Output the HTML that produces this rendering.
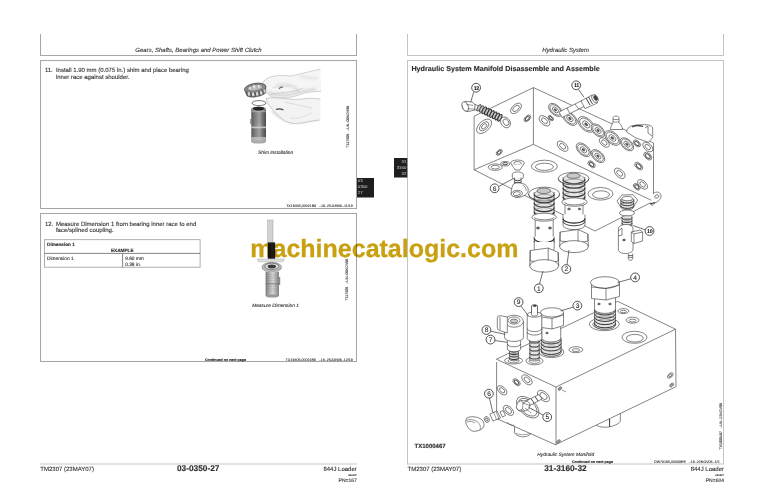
<!DOCTYPE html>
<html><head><meta charset="utf-8">
<style>
html,body{margin:0;padding:0;background:#fff;width:768px;height:497px;overflow:hidden}
svg{display:block}
text{font-family:"Liberation Sans",sans-serif;fill:#2e2e2e;stroke:#2e2e2e;stroke-width:0.1;text-rendering:geometricPrecision}
.b{stroke-width:0.14}
.it{font-style:italic}
.b{font-weight:bold}
.wm{font-family:"Liberation Sans",sans-serif;font-weight:bold;fill:#c8a012;stroke:#c8a012;stroke-width:0.3}
</style></head>
<body>
<svg width="768" height="497" viewBox="0 0 768 497">
<defs>
<linearGradient id="cyl" x1="0" x2="1" y1="0" y2="0">
<stop offset="0" stop-color="#5a5a5a"/><stop offset="0.3" stop-color="#8a8a8a"/><stop offset="0.55" stop-color="#a8a8a8"/><stop offset="0.8" stop-color="#707070"/><stop offset="1" stop-color="#4a4a4a"/>
</linearGradient>
<linearGradient id="cyl2" x1="0" x2="1" y1="0" y2="0">
<stop offset="0" stop-color="#7a7a7a"/><stop offset="0.3" stop-color="#b0b0b0"/><stop offset="0.55" stop-color="#d6d6d6"/><stop offset="0.85" stop-color="#a0a0a0"/><stop offset="1" stop-color="#787878"/>
</linearGradient>
<filter id="blur1" x="-20%" y="-20%" width="140%" height="140%"><feGaussianBlur stdDeviation="1.2"/></filter>
</defs>

<!-- ================= LEFT PAGE ================= -->
<g fill="none" stroke="#a6a6a6" stroke-width="1.05">
<path d="M40.5,34 V55.5 H356.5 V34"/>
<rect x="40.5" y="60.5" width="316" height="148"/>
<rect x="40.5" y="213.5" width="316" height="148"/>
</g>
<line x1="40" y1="464" x2="357" y2="464" stroke="#c8c8c8" stroke-width="1.2"/>

<text class="it" x="198.5" y="51.8" font-size="6" text-anchor="middle">Gears, Shafts, Bearings and Power Shift Clutch</text>

<text x="44.9" y="72.3" font-size="6">11.</text>
<text x="55.9" y="72.3" font-size="6">Install 1.90 mm (0.075 in.) shim and place bearing</text>
<text x="55.9" y="79.1" font-size="6">inner race against shoulder.</text>

<text class="it" x="275.6" y="153.7" font-size="4.8" text-anchor="middle">Shim Installation</text>
<text x="0" y="0" font-size="3.6" transform="translate(349.2,147.7) rotate(-90)">T117506 &#160;&#160;–UN–09NOV98</text>
<text x="352.8" y="207.4" font-size="3.6" text-anchor="end">TX19405,00021B3 &#160;&#160;–19–25JUN06–11/19</text>

<!-- tab left -->
<rect x="357" y="178" width="17" height="19.5" fill="#1e1e1e"/>
<text x="357.8" y="182.3" font-size="4.3" style="fill:#eee">03</text>
<text x="357.8" y="188.2" font-size="4.3" style="fill:#eee">0350</text>
<text x="357.8" y="194.2" font-size="4.3" style="fill:#eee">27</text>

<!-- illustration 1 (shim installation) -->
<g id="ill1">
  <!-- upper hand -->
  <path d="M262,83.5 C264,80 268,77.5 272,76.5 C278,75 285,75.5 291,76 C298,74.5 308,72 320.5,69 L321,91.5 C313,91.5 306,92 300,94.5 C294,97 288,97.8 282,98 C277,98.2 272,97.5 269,95 C266,92.5 263.5,89 262,86 Z" fill="#f5f5f5"/>
  <path d="M320.5,69 C308,72 298,74.5 291,76 C285,75.5 278,75 272,76.5 C268,77.5 264,80 262,83.5 L262,86 C263.5,89 266,92.5 269,95 C272,97.5 277,98.2 282,98 C288,97.8 294,97 300,94.5 C306,92 313,91.5 321,91.5" fill="none" stroke="#aaa" stroke-width="0.5"/>
  <g filter="url(#blur1)" opacity="0.8">
    <path d="M268,92 C274,95 283,96 292,94 C299,92.5 306,90 316,89" fill="none" stroke="#c9c9c9" stroke-width="2.2"/>
    <path d="M276,86 C281,84 287,84 292,86 C296,88 298,90 298,92" fill="none" stroke="#d2d2d2" stroke-width="2"/>
    <path d="M300,76 C306,78 312,79 318,78" fill="none" stroke="#dcdcdc" stroke-width="2"/>
    <path d="M272,111 C277,116 283,120 290,122 C298,123 308,121 318,119" fill="none" stroke="#cdcdcd" stroke-width="2.2"/>
    <path d="M270,100 C276,100.5 284,101 292,102.5" fill="none" stroke="#d5d5d5" stroke-width="1.8"/>
    <path d="M300,106 C306,110 312,112 318,112" fill="none" stroke="#dadada" stroke-width="2"/>
  </g>
  <path d="M270,95 C276,93 284,92.5 291,91.5 C296,90.5 300,89.5 303,88" fill="none" stroke="#c8c8c8" stroke-width="0.8"/>
  <path d="M272,88 C278,86.5 284,86 289,86.5" fill="none" stroke="#d0d0d0" stroke-width="0.6"/>
  <path d="M279,89 C280.5,87 282,86.5 283,87.5" fill="none" stroke="#666" stroke-width="1.1"/>
  <!-- lower hand -->
  <path d="M266,98.5 C270,97.5 276,97.8 282,98.3 C290,99.5 298,100 306,98.5 C312,98 317,98.5 320.5,99 L320.5,120 C314,120.5 308,121.5 302,123 C296,124 290,123.5 285,121 C280,117.5 276,113 272,109 C269,106 267,102 266,98.5 Z" fill="#f3f3f3"/>
  <path d="M320.5,99 C317,98.5 312,98 306,98.5 C298,100 290,99.5 282,98.3 C276,97.8 270,97.5 266,98.5 C267,102 269,106 272,109 C276,113 280,117.5 285,121 C290,123.5 296,124 302,123 C308,121.5 314,120.5 320.5,120" fill="none" stroke="#aaa" stroke-width="0.55"/>
  <path d="M285,102 C293,104 302,106 312,108" fill="none" stroke="#d5d5d5" stroke-width="0.8"/>
  <path d="M276,109.5 C278.5,108.5 281,108.8 283.5,110" fill="none" stroke="#444" stroke-width="1.3"/>
  <path d="M290,118 C296,119 304,117 312,113" fill="none" stroke="#d5d5d5" stroke-width="0.7"/>
  <!-- bearing -->
  <g transform="rotate(-9 255.5 90)">
    <path d="M244.7,88 A10.8,4.6 0 0 1 266.3,88 L265.3,93.5 A9.8,3.4 0 0 1 245.7,93.5 Z" fill="#5e5e5e" stroke="#555" stroke-width="0.4"/>
    <ellipse cx="255.5" cy="88" rx="10.8" ry="4.6" fill="#8e8e8e" stroke="#4a4a4a" stroke-width="0.6"/>
    <ellipse cx="255.5" cy="87.8" rx="7.8" ry="3" fill="#b8b8b8" stroke="#555" stroke-width="0.5"/>
    <g fill="#e4e4e4"><rect x="253.6" y="85" width="2.2" height="3.2"/><rect x="249.5" y="86" width="1.6" height="2.6"/><rect x="258.5" y="85.4" width="1.8" height="2.8"/></g>
    <g fill="#d6d6d6"><rect x="247.3" y="91" width="2.2" height="3.6"/><rect x="251.3" y="92" width="2.3" height="3.7"/><rect x="255.4" y="92.3" width="2.3" height="3.6"/><rect x="259.5" y="91.9" width="2.3" height="3.6"/><rect x="263.3" y="90.8" width="1.8" height="3.2"/></g>
  </g>
  <!-- shim ring -->
  <ellipse cx="259" cy="103.1" rx="7" ry="2.5" fill="#fff" stroke="#444" stroke-width="0.7"/>
  <!-- shaft cylinder -->
  <rect x="251.3" y="108.5" width="14.7" height="33.5" fill="url(#cyl)"/>
  <g stroke="#555" stroke-width="0.35" opacity="0.55">
    <line x1="251.3" y1="112" x2="266" y2="112"/><line x1="251.3" y1="114" x2="266" y2="114"/><line x1="251.3" y1="116" x2="266" y2="116"/><line x1="251.3" y1="118" x2="266" y2="118"/><line x1="251.3" y1="120" x2="266" y2="120"/><line x1="251.3" y1="122" x2="266" y2="122"/>
    <line x1="251.3" y1="130" x2="266" y2="130"/><line x1="251.3" y1="132" x2="266" y2="132"/><line x1="251.3" y1="134" x2="266" y2="134"/><line x1="251.3" y1="136" x2="266" y2="136"/>
  </g>
  <rect x="251.3" y="126.6" width="14.7" height="1.6" fill="#d0d0d0" opacity="0.85"/>
  <rect x="251.3" y="137" width="14.7" height="5" fill="#c4c4c4" opacity="0.75"/>
  <ellipse cx="258.65" cy="142" rx="7.35" ry="1.6" fill="#aaa"/>
  <ellipse cx="258.65" cy="109" rx="7.35" ry="2.4" fill="#9a9a9a"/>
  <ellipse cx="258.65" cy="108.6" rx="5.8" ry="1.9" fill="#222"/>
  <rect x="251.3" y="111" width="14.7" height="1.2" fill="#bbb" opacity="0.6"/>
  <rect x="250.3" y="119" width="1.2" height="5" fill="#777"/>
</g>

<!-- box 2 -->
<text x="44.9" y="225.5" font-size="6">12.</text>
<text x="55.9" y="225.5" font-size="6">Measure Dimension 1 from bearing inner race to end</text>
<text x="55.9" y="232.4" font-size="6">face/splined coupling.</text>

<g fill="none">
<rect x="44.5" y="239.7" width="155.6" height="27.5" stroke="#999" stroke-width="0.8"/>
<line x1="44.5" y1="253.4" x2="200.1" y2="253.4" stroke="#666" stroke-width="0.8"/>
<line x1="122.6" y1="253.4" x2="122.6" y2="267.2" stroke="#666" stroke-width="0.8"/>
</g>
<text class="b" x="47" y="245.6" font-size="4.7">Dimension 1</text>
<text class="b" x="122.3" y="251.6" font-size="4.7" text-anchor="middle">EXAMPLE</text>
<text x="47" y="259.7" font-size="4.8">Dimension 1</text>
<text x="125.2" y="259.7" font-size="4.8">9.60 mm</text>
<text x="125.2" y="265.6" font-size="4.8">0.38 in.</text>

<!-- illustration 2 (measure dimension) -->
<g id="ill2">
  <rect x="267.8" y="220" width="5.2" height="23" fill="#d2d2d2" stroke="#8a8a8a" stroke-width="0.4"/>
  <rect x="267.8" y="242.4" width="7.4" height="16.4" fill="#1c1c1c"/>
  <path d="M257,259 H284.6 L283,261.8 H258.5 Z" fill="#dedede" stroke="#999" stroke-width="0.35"/>
  <ellipse cx="271.8" cy="267.3" rx="9.8" ry="5" fill="#b8b8b8" stroke="#666" stroke-width="0.45"/>
  <ellipse cx="271.8" cy="266.4" rx="7" ry="3.2" fill="#e2e2e2" stroke="#444" stroke-width="0.6"/>
  <ellipse cx="271.8" cy="266.5" rx="4.2" ry="1.9" fill="#3a3a3a"/>
  <rect x="265.6" y="272" width="13.3" height="24" fill="url(#cyl2)"/>
  <g stroke="#666" stroke-width="0.3" opacity="0.45"><line x1="265.6" y1="274.5" x2="278.9" y2="274.5"/><line x1="265.6" y1="276.5" x2="278.9" y2="276.5"/><line x1="265.6" y1="278.5" x2="278.9" y2="278.5"/><line x1="265.6" y1="280.5" x2="278.9" y2="280.5"/><line x1="265.6" y1="286.5" x2="278.9" y2="286.5"/><line x1="265.6" y1="288.5" x2="278.9" y2="288.5"/><line x1="265.6" y1="290.5" x2="278.9" y2="290.5"/></g>
  <rect x="265.6" y="283" width="13.3" height="1.5" fill="#666" opacity="0.5"/>
  <ellipse cx="272.25" cy="296" rx="6.65" ry="1.6" fill="#999"/>
  <rect x="278.9" y="277" width="1.3" height="8" fill="#888"/>
</g>
<text class="it" x="275.5" y="306.7" font-size="4.8" text-anchor="middle">Measure Dimension 1</text>
<text x="0" y="0" font-size="3.6" transform="translate(348.3,300.6) rotate(-90)">T117506 &#160;&#160;–UN–09NOV98</text>
<text class="b" x="205" y="361" font-size="3.6">Continued on next page</text>
<text x="352.8" y="360.9" font-size="3.6" text-anchor="end">TX19405,00021B3 &#160;&#160;–19–25JUN06–12/19</text>

<!-- footer left -->
<text x="40.3" y="471.3" font-size="6">TM2307 (23MAY07)</text>
<text class="b" x="198.2" y="471.1" font-size="8.3" text-anchor="middle">03-0350-27</text>
<text x="356.8" y="471.3" font-size="6" text-anchor="end">844J Loader</text>
<text x="356.8" y="476" font-size="2.6" text-anchor="end">060407</text>
<text x="356.8" y="482" font-size="5" text-anchor="end">PN=167</text>

<!-- ================= RIGHT PAGE ================= -->
<g fill="none" stroke="#c4c4c4" stroke-width="1">
<path d="M407.5,34 V55.5 H723.5 V34"/>
<rect x="407.5" y="60.5" width="316" height="403.5"/>
</g>
<text class="it" x="565.6" y="51.8" font-size="6" text-anchor="middle">Hydraulic System</text>
<text class="b" x="411.4" y="71" font-size="7.2">Hydraulic System Manifold Disassemble and Assemble</text>

<!-- tab right -->
<rect x="394" y="158" width="13.3" height="19.5" fill="#1e1e1e"/>
<text x="406.3" y="162.7" font-size="4.3" text-anchor="end" style="fill:#eee">31</text>
<text x="406.3" y="168.7" font-size="4.3" text-anchor="end" style="fill:#eee">3160</text>
<text x="406.3" y="174.6" font-size="4.3" text-anchor="end" style="fill:#eee">32</text>

<g id="diagram" fill="none" stroke="#333" stroke-width="0.6" stroke-linejoin="round">
<path d="M533.4,87.6 L474.1,116.2 V169.8 L595,231 L653.5,201.3 V143 Z" fill="#fff"/>
<path d="M533.4,87.6 V144.4 L474.1,169.8 M533.4,144.4 L653.5,201.3"/>
<ellipse cx="484.1" cy="126.3" rx="9.03" ry="5.23" transform="rotate(136.91 484.1 126.3)" fill="#fff"/>
<ellipse cx="484.1" cy="126.3" rx="5.6" ry="3.24" transform="rotate(136.91 484.1 126.3)"/>
<ellipse cx="484.1" cy="126.3" rx="3.13" ry="1.81" transform="rotate(136.91 484.1 126.3)"/>
<ellipse cx="516" cy="108.4" rx="6.5" ry="3.77" transform="rotate(136.91 516 108.4)" fill="#fff"/>
<ellipse cx="516" cy="108.4" rx="3.9" ry="2.26" transform="rotate(136.91 516 108.4)"/>
<ellipse cx="527.4" cy="118.4" rx="4.09" ry="2.37" transform="rotate(136.91 527.4 118.4)" fill="#fff"/>
<ellipse cx="527.4" cy="118.4" rx="2.46" ry="1.42" transform="rotate(136.91 527.4 118.4)" stroke-width="1.0" stroke="#555"/>
<ellipse cx="499.2" cy="152.4" rx="3.61" ry="2.09" transform="rotate(136.91 499.2 152.4)" fill="#fff"/>
<ellipse cx="499.2" cy="152.4" rx="2.17" ry="1.26" transform="rotate(136.91 499.2 152.4)" stroke-width="1.0" stroke="#555"/>
<ellipse cx="555.4" cy="109.9" rx="8.13" ry="4.78" transform="rotate(-137.37 555.4 109.9)" fill="#fff"/>
<ellipse cx="555.4" cy="109.9" rx="6.5" ry="3.82" transform="rotate(-137.37 555.4 109.9)" stroke-width="0.9" stroke="#777"/>
<ellipse cx="555.4" cy="109.9" rx="3.66" ry="2.15" transform="rotate(-137.37 555.4 109.9)"/>
<ellipse cx="555.4" cy="109.9" rx="1.63" ry="0.96" transform="rotate(-137.37 555.4 109.9)" fill="#555" stroke-width="0.3"/>
<ellipse cx="569.9" cy="118.5" rx="8.61" ry="5.06" transform="rotate(-137.37 569.9 118.5)" fill="#fff"/>
<ellipse cx="569.9" cy="118.5" rx="6.89" ry="4.05" transform="rotate(-137.37 569.9 118.5)" stroke-width="0.9" stroke="#777"/>
<ellipse cx="569.9" cy="118.5" rx="3.87" ry="2.28" transform="rotate(-137.37 569.9 118.5)"/>
<ellipse cx="569.9" cy="118.5" rx="1.72" ry="1.01" transform="rotate(-137.37 569.9 118.5)" fill="#555" stroke-width="0.3"/>
<ellipse cx="586.2" cy="124.4" rx="9.8" ry="5.76" transform="rotate(-137.37 586.2 124.4)" fill="#fff"/>
<ellipse cx="586.2" cy="124.4" rx="7.84" ry="4.61" transform="rotate(-137.37 586.2 124.4)" stroke-width="0.9" stroke="#777"/>
<ellipse cx="586.2" cy="124.4" rx="4.41" ry="2.59" transform="rotate(-137.37 586.2 124.4)"/>
<ellipse cx="586.2" cy="124.4" rx="1.96" ry="1.15" transform="rotate(-137.37 586.2 124.4)" fill="#555" stroke-width="0.3"/>
<ellipse cx="598" cy="130.5" rx="8.13" ry="4.78" transform="rotate(-137.37 598 130.5)" fill="#fff"/>
<ellipse cx="598" cy="130.5" rx="6.5" ry="3.82" transform="rotate(-137.37 598 130.5)" stroke-width="0.9" stroke="#777"/>
<ellipse cx="598" cy="130.5" rx="3.66" ry="2.15" transform="rotate(-137.37 598 130.5)"/>
<ellipse cx="598" cy="130.5" rx="1.63" ry="0.96" transform="rotate(-137.37 598 130.5)" fill="#555" stroke-width="0.3"/>
<ellipse cx="612.4" cy="138" rx="9.2" ry="5.41" transform="rotate(-137.37 612.4 138)" fill="#fff"/>
<ellipse cx="612.4" cy="138" rx="7.36" ry="4.33" transform="rotate(-137.37 612.4 138)" stroke-width="0.9" stroke="#777"/>
<ellipse cx="612.4" cy="138" rx="4.14" ry="2.43" transform="rotate(-137.37 612.4 138)"/>
<ellipse cx="612.4" cy="138" rx="1.84" ry="1.08" transform="rotate(-137.37 612.4 138)" fill="#555" stroke-width="0.3"/>
<ellipse cx="626.9" cy="144.3" rx="8.13" ry="4.78" transform="rotate(-137.37 626.9 144.3)" fill="#fff"/>
<ellipse cx="626.9" cy="144.3" rx="6.5" ry="3.82" transform="rotate(-137.37 626.9 144.3)" stroke-width="0.9" stroke="#777"/>
<ellipse cx="626.9" cy="144.3" rx="3.66" ry="2.15" transform="rotate(-137.37 626.9 144.3)"/>
<ellipse cx="626.9" cy="144.3" rx="1.63" ry="0.96" transform="rotate(-137.37 626.9 144.3)" fill="#555" stroke-width="0.3"/>
<ellipse cx="583.4" cy="149.8" rx="8.61" ry="5.06" transform="rotate(-137.37 583.4 149.8)" fill="#fff"/>
<ellipse cx="583.4" cy="149.8" rx="6.89" ry="4.05" transform="rotate(-137.37 583.4 149.8)" stroke-width="0.9" stroke="#777"/>
<ellipse cx="583.4" cy="149.8" rx="3.87" ry="2.28" transform="rotate(-137.37 583.4 149.8)"/>
<ellipse cx="583.4" cy="149.8" rx="1.72" ry="1.01" transform="rotate(-137.37 583.4 149.8)" fill="#555" stroke-width="0.3"/>
<ellipse cx="597.9" cy="156.1" rx="8.13" ry="4.78" transform="rotate(-137.37 597.9 156.1)" fill="#fff"/>
<ellipse cx="597.9" cy="156.1" rx="6.5" ry="3.82" transform="rotate(-137.37 597.9 156.1)" stroke-width="0.9" stroke="#777"/>
<ellipse cx="597.9" cy="156.1" rx="3.66" ry="2.15" transform="rotate(-137.37 597.9 156.1)"/>
<ellipse cx="597.9" cy="156.1" rx="1.63" ry="0.96" transform="rotate(-137.37 597.9 156.1)" fill="#555" stroke-width="0.3"/>
<ellipse cx="544.5" cy="120.8" rx="6.46" ry="3.79" transform="rotate(-137.37 544.5 120.8)" fill="#fff"/>
<ellipse cx="544.5" cy="120.8" rx="3.55" ry="2.09" transform="rotate(-137.37 544.5 120.8)"/>
<ellipse cx="604.3" cy="142.5" rx="5.98" ry="3.51" transform="rotate(-137.37 604.3 142.5)" fill="#fff"/>
<ellipse cx="604.3" cy="142.5" rx="3.29" ry="1.93" transform="rotate(-137.37 604.3 142.5)"/>
<ellipse cx="562.6" cy="146.2" rx="6.46" ry="3.79" transform="rotate(-137.37 562.6 146.2)" fill="#fff"/>
<ellipse cx="562.6" cy="146.2" rx="3.55" ry="2.09" transform="rotate(-137.37 562.6 146.2)"/>
<ellipse cx="647.8" cy="147" rx="5.98" ry="3.51" transform="rotate(-137.37 647.8 147)" fill="#fff"/>
<ellipse cx="647.8" cy="147" rx="3.29" ry="1.93" transform="rotate(-137.37 647.8 147)"/>
<ellipse cx="619.7" cy="173.3" rx="6.46" ry="3.79" transform="rotate(-137.37 619.7 173.3)" fill="#fff"/>
<ellipse cx="619.7" cy="173.3" rx="3.55" ry="2.09" transform="rotate(-137.37 619.7 173.3)"/>
<ellipse cx="550.8" cy="118.1" rx="3.23" ry="1.9" transform="rotate(-137.37 550.8 118.1)" fill="#fff"/>
<ellipse cx="550.8" cy="118.1" rx="1.94" ry="1.14" transform="rotate(-137.37 550.8 118.1)" stroke-width="1.0" stroke="#555"/>
<ellipse cx="636.9" cy="143.4" rx="4.3" ry="2.53" transform="rotate(-137.37 636.9 143.4)" fill="#fff"/>
<ellipse cx="636.9" cy="143.4" rx="2.58" ry="1.52" transform="rotate(-137.37 636.9 143.4)" stroke-width="1.0" stroke="#555"/>
<ellipse cx="647.8" cy="156.1" rx="4.78" ry="2.81" transform="rotate(-137.37 647.8 156.1)" fill="#fff"/>
<ellipse cx="647.8" cy="156.1" rx="2.87" ry="1.69" transform="rotate(-137.37 647.8 156.1)" stroke-width="1.0" stroke="#555"/>
<ellipse cx="591.6" cy="164.3" rx="4.3" ry="2.53" transform="rotate(-137.37 591.6 164.3)" fill="#fff"/>
<ellipse cx="591.6" cy="164.3" rx="2.58" ry="1.52" transform="rotate(-137.37 591.6 164.3)" stroke-width="1.0" stroke="#555"/>
<ellipse cx="638.7" cy="166.1" rx="4.78" ry="2.81" transform="rotate(-137.37 638.7 166.1)" fill="#fff"/>
<ellipse cx="638.7" cy="166.1" rx="2.87" ry="1.69" transform="rotate(-137.37 638.7 166.1)" stroke-width="1.0" stroke="#555"/>
<ellipse cx="636.8" cy="186.8" rx="4.06" ry="2.39" transform="rotate(-137.37 636.8 186.8)" fill="#fff"/>
<ellipse cx="636.8" cy="186.8" rx="2.44" ry="1.43" transform="rotate(-137.37 636.8 186.8)" stroke-width="1.0" stroke="#555"/>
<ellipse cx="642.6" cy="184.4" rx="5.98" ry="3.51" transform="rotate(-137.37 642.6 184.4)" fill="#fff"/>
<ellipse cx="642.6" cy="184.4" rx="3.29" ry="1.93" transform="rotate(-137.37 642.6 184.4)"/>
<path d="M653.5,193.5 C656,191 660,192 661,195 C661.5,198 659,201.5 655,203 L652,205.5 L650.5,203" fill="#fff"/>
<ellipse cx="656.8" cy="196.5" rx="2.2" ry="1.5" transform="rotate(-20 656.8 196.5)"/>
<path d="M650,204 L655,202.5" stroke-width="1.1"/>
<ellipse cx="495.2" cy="167.2" rx="7" ry="3.2" fill="#fff"/>
<ellipse cx="495.2" cy="167.2" rx="4.2" ry="1.8"/>
<ellipse cx="505.2" cy="163.7" rx="4.5" ry="2.2" fill="#fff"/>
<ellipse cx="505.2" cy="163.7" rx="2.5" ry="1.1" stroke-width="0.9"/>
<ellipse cx="544.4" cy="166.2" rx="13" ry="6" fill="#fff"/>
<ellipse cx="544.4" cy="166.8" rx="9" ry="3.6"/>
<ellipse cx="600.5" cy="193.8" rx="12.5" ry="6.3" fill="#fff"/>
<ellipse cx="601" cy="194.6" rx="8.5" ry="3.8"/>
<path d="M465.5,101.3 L472,102 L475.5,105 L475,110 L468,111.6 C465,111.8 462.2,109 462.2,106.5 C462.2,104 463.5,101.8 465.5,101.3 Z" fill="#fff"/>
<ellipse cx="465.3" cy="106.5" rx="2.9" ry="5" transform="rotate(-20 465.3 106.5)" fill="#fff"/>
<path d="M466.5,104.5 L473,105.3 M467.5,108.8 L474.5,109" stroke-width="0.5"/>
<path d="M475,104.5 L478.5,105.8 L478,110.5 L474.8,109.8 Z" fill="#fff"/>
<ellipse cx="479" cy="107.8" rx="1.5" ry="3.7" transform="rotate(28 479 107.8)" fill="#c4c4c4" stroke="#333" stroke-width="0.7"/>
<ellipse cx="481.6" cy="109.05" rx="1.5" ry="3.7" transform="rotate(28 481.6 109.05)" fill="#c4c4c4" stroke="#333" stroke-width="0.7"/>
<ellipse cx="484.2" cy="110.3" rx="1.5" ry="3.7" transform="rotate(28 484.2 110.3)" fill="#c4c4c4" stroke="#333" stroke-width="1.05"/>
<ellipse cx="486.8" cy="111.55" rx="1.5" ry="3.7" transform="rotate(28 486.8 111.55)" fill="#c4c4c4" stroke="#333" stroke-width="1.05"/>
<ellipse cx="489.4" cy="112.8" rx="1.5" ry="3.7" transform="rotate(28 489.4 112.8)" fill="#c4c4c4" stroke="#333" stroke-width="1.05"/>
<ellipse cx="492" cy="114.05" rx="1.5" ry="3.7" transform="rotate(28 492 114.05)" fill="#c4c4c4" stroke="#333" stroke-width="1.05"/>
<ellipse cx="494.6" cy="115.3" rx="1.5" ry="3.7" transform="rotate(28 494.6 115.3)" fill="#c4c4c4" stroke="#333" stroke-width="1.05"/>
<ellipse cx="497.2" cy="116.55" rx="1.5" ry="3.7" transform="rotate(28 497.2 116.55)" fill="#c4c4c4" stroke="#333" stroke-width="1.05"/>
<ellipse cx="499.8" cy="117.8" rx="1.5" ry="3.7" transform="rotate(28 499.8 117.8)" fill="#c4c4c4" stroke="#333" stroke-width="1.05"/>
<ellipse cx="505.5" cy="122.4" rx="4.5" ry="5.8" transform="rotate(-35 505.5 122.4)" fill="#fff"/>
<ellipse cx="506" cy="122.2" rx="2.6" ry="3.6" transform="rotate(-35 506 122.2)"/>
<path d="M559,112 L582,100.5 L585,106 L562,117.5 Z" fill="#fff"/>
<path d="M575,104 L579,109.5 M567,108 L569.5,113"/>
<path d="M581,101 L592,95 L597.5,103 L585,108.5 Z" fill="#fff"/>
<path d="M586,98 L590,105 M588.5,97 L592.5,104" stroke-width="0.9"/>
<ellipse cx="595" cy="98.5" rx="2.8" ry="4.2" transform="rotate(-28 595 98.5)" fill="#fff"/>
<ellipse cx="595.6" cy="98" rx="1.6" ry="2.6" transform="rotate(-28 595.6 98)" fill="#444"/>
<path d="M610.5,129.5 C611,125 612.5,124 613,123 V117.5 C614,115.5 618,115.5 619,117.5 V123 C620,124 622,125 622.5,129.5 Z" fill="#fff"/>
<path d="M613,119.5 H619 M613,122 H619" stroke-width="0.5"/>
<path d="M626.5,132 C627,128 630,126 633,125.5 C638,124.5 644,124.5 648.3,124.9 C651,125.5 652.7,127 652.7,128 V137.4 C651,140 649,141.5 648.3,142.2 L636,138 Z" fill="#fff"/>
<path d="M632.2,126.9 C635,125.5 640,125.5 643,126.5" stroke-width="1.1"/>
<path d="M648,126 V133 L652,136 M645,128 L648,126"/>
<ellipse cx="517.5" cy="163" rx="6.8" ry="3" fill="#fff"/>
<ellipse cx="517.5" cy="163.2" rx="3.8" ry="1.6"/>
<path d="M511.5,164.5 C513,167 514.5,168.5 515,170 H520 C520.5,168.5 522,167 523.5,164.5" fill="#fff"/>
<ellipse cx="517.8" cy="174.5" rx="5.5" ry="2.6" fill="#fff"/>
<path d="M512.3,174.5 V177.5 A5.5,2.31 0 0 0 523.3,177.5 V174.5" fill="#fff"/>
<path d="M514.5,177.5 V184.5 A3.3,1.39 0 0 0 521.1,184.5 V177.5" fill="#f0f0f0"/>
<path d="M514.5,179.3 A3.3,1.39 0 0 0 521.1,179.3" stroke-width="0.9"/>
<path d="M514.5,181.5 A3.3,1.39 0 0 0 521.1,181.5" stroke-width="0.9"/>
<path d="M514.5,183.6 A3.3,1.39 0 0 0 521.1,183.6" stroke-width="0.9"/>
<path d="M513.5,184 C515,182.5 521,182.5 524,184 C526,185 528.3,187 528.3,190 C528.3,193 526,195 523,196 L520,197.3 C516,197.8 511.5,196.5 511.2,193.5 C511,190.5 512,186 513.5,184 Z" fill="#fff"/>
<ellipse cx="516.8" cy="193.6" rx="5.6" ry="3.3" transform="rotate(-8 516.8 193.6)" fill="#fff"/>
<ellipse cx="516.8" cy="193.6" rx="3.6" ry="1.9" transform="rotate(-8 516.8 193.6)"/>
<path d="M522.5,185 C525,186 526.5,188.5 526,191" stroke-width="0.5"/>
<ellipse cx="544.1" cy="194.1" rx="15.6" ry="7" fill="#fff"/>
<path d="M534.2,192 V214 A10,4.2 0 0 0 554.2,214 V192" fill="#e4e4e4"/>
<path d="M534.2,194.2 A10,4.2 0 0 1 554.2,194.2" stroke-width="0.6" stroke="#777"/>
<path d="M534.2,194.2 A10,4.2 0 0 0 554.2,194.2" stroke-width="1.25" stroke="#333"/>
<path d="M534.2,198.6 A10,4.2 0 0 1 554.2,198.6" stroke-width="0.6" stroke="#777"/>
<path d="M534.2,198.6 A10,4.2 0 0 0 554.2,198.6" stroke-width="1.25" stroke="#333"/>
<path d="M534.2,203 A10,4.2 0 0 1 554.2,203" stroke-width="0.6" stroke="#777"/>
<path d="M534.2,203 A10,4.2 0 0 0 554.2,203" stroke-width="1.25" stroke="#333"/>
<path d="M534.2,207.4 A10,4.2 0 0 1 554.2,207.4" stroke-width="0.6" stroke="#777"/>
<path d="M534.2,207.4 A10,4.2 0 0 0 554.2,207.4" stroke-width="1.25" stroke="#333"/>
<path d="M534.2,211.8 A10,4.2 0 0 1 554.2,211.8" stroke-width="0.6" stroke="#777"/>
<path d="M534.2,211.8 A10,4.2 0 0 0 554.2,211.8" stroke-width="1.25" stroke="#333"/>
<ellipse cx="543.8" cy="190.8" rx="6.8" ry="2.8" fill="#c8c8c8"/>
<path d="M528.5,194.1 A15.6,7 0 0 0 559.7,194.1"/>
<path d="M535.2,217 V237 A9,3.78 0 0 0 553.2,237 V217" fill="#fff"/>
<path d="M531.8,217.2 A12.3,4 0 0 0 556.4,217.2 A12.3,4 0 0 0 531.8,217.2 M534.5,217.2 A9.7,2.6 0 0 0 553.9,217.2" fill="#fff"/>
<ellipse cx="538" cy="228" rx="1.6" ry="1.2" fill="#666" stroke-width="0.3"/>
<ellipse cx="550" cy="228" rx="1.6" ry="1.2" fill="#666" stroke-width="0.3"/>
<path d="M534.2,236.5 V242 A10,4.2 0 0 0 554.2,242 V236.5" fill="#fff"/>
<path d="M534.2,238.3 A10,4.2 0 0 0 554.2,238.3" stroke-width="1.1" stroke="#222"/>
<path d="M534.2,240.8 A10,4.2 0 0 0 554.2,240.8" stroke-width="0.9" stroke="#333"/>
<path d="M534.2,242 V248.5 A10,4.2 0 0 0 554.2,248.5 V242" fill="#fff"/>
<path d="M530.2,250.5 L548.2,248 L558.2,252.5 V261 L548.2,263 L530.2,261 Z" fill="#fff"/>
<ellipse cx="544.2" cy="265.9" rx="14.5" ry="6.3" fill="#fff"/>
<path d="M530.2,250.5 L529.7,265.9 M558.2,252.5 L558.7,265.9 M548.2,248 V260.6"/>
<ellipse cx="573.6" cy="178.6" rx="15.4" ry="6.3" fill="#fff"/>
<path d="M563.1,177 V199 A10.9,4.58 0 0 0 584.9,199 V177" fill="#e4e4e4"/>
<path d="M563.1,179.2 A10.9,4.58 0 0 1 584.9,179.2" stroke-width="0.6" stroke="#777"/>
<path d="M563.1,179.2 A10.9,4.58 0 0 0 584.9,179.2" stroke-width="1.25" stroke="#333"/>
<path d="M563.1,183.6 A10.9,4.58 0 0 1 584.9,183.6" stroke-width="0.6" stroke="#777"/>
<path d="M563.1,183.6 A10.9,4.58 0 0 0 584.9,183.6" stroke-width="1.25" stroke="#333"/>
<path d="M563.1,188 A10.9,4.58 0 0 1 584.9,188" stroke-width="0.6" stroke="#777"/>
<path d="M563.1,188 A10.9,4.58 0 0 0 584.9,188" stroke-width="1.25" stroke="#333"/>
<path d="M563.1,192.4 A10.9,4.58 0 0 1 584.9,192.4" stroke-width="0.6" stroke="#777"/>
<path d="M563.1,192.4 A10.9,4.58 0 0 0 584.9,192.4" stroke-width="1.25" stroke="#333"/>
<path d="M563.1,196.8 A10.9,4.58 0 0 1 584.9,196.8" stroke-width="0.6" stroke="#777"/>
<path d="M563.1,196.8 A10.9,4.58 0 0 0 584.9,196.8" stroke-width="1.25" stroke="#333"/>
<ellipse cx="573.5" cy="175.8" rx="6.8" ry="2.6" fill="#c8c8c8"/>
<path d="M558.2,178.6 A15.4,6.3 0 0 0 589,178.6"/>
<path d="M565,202 V215 A9,3.78 0 0 0 583,215 V202" fill="#fff"/>
<path d="M561.8,202.1 A12.7,4.2 0 0 0 587.2,202.1 A12.7,4.2 0 0 0 561.8,202.1 M564.5,202.1 A10,2.8 0 0 0 584.5,202.1" fill="#fff"/>
<ellipse cx="569" cy="209" rx="1.5" ry="1.1" fill="#666" stroke-width="0.3"/>
<ellipse cx="579.5" cy="209" rx="1.5" ry="1.1" fill="#666" stroke-width="0.3"/>
<path d="M563,214.5 V225 A11,4.62 0 0 0 585,225 V214.5" fill="#fff"/>
<path d="M563,218.5 A11,4.62 0 0 0 585,218.5" stroke-width="1.1" stroke="#222"/>
<path d="M563,221.2 A11,4.62 0 0 0 585,221.2" stroke-width="0.9" stroke="#333"/>
<path d="M560.1,232 L578,229.5 L587.9,234 V241 L578,243 L560.1,241 Z" fill="#fff"/>
<ellipse cx="574" cy="246.6" rx="14.4" ry="6" fill="#fff"/>
<path d="M560.1,232 L559.6,246.6 M587.9,234 L588.4,246.6 M578,229.5 V241.6"/>
<path d="M617,201 L622,195 L633,194.7 L637.8,200 L633,207.5 L621,207.5 Z" fill="#fff"/>
<path d="M620.8,199 V207 A6.5,2.73 0 0 0 633.8,207 V199" fill="#e4e4e4"/>
<path d="M620.8,200.33 A6.5,2.73 0 0 1 633.8,200.33" stroke-width="0.6" stroke="#777"/>
<path d="M620.8,200.33 A6.5,2.73 0 0 0 633.8,200.33" stroke-width="1.0" stroke="#333"/>
<path d="M620.8,203 A6.5,2.73 0 0 1 633.8,203" stroke-width="0.6" stroke="#777"/>
<path d="M620.8,203 A6.5,2.73 0 0 0 633.8,203" stroke-width="1.0" stroke="#333"/>
<path d="M620.8,205.67 A6.5,2.73 0 0 1 633.8,205.67" stroke-width="0.6" stroke="#777"/>
<path d="M620.8,205.67 A6.5,2.73 0 0 0 633.8,205.67" stroke-width="1.0" stroke="#333"/>
<ellipse cx="627.3" cy="198.6" rx="5.5" ry="2.2" fill="#fff"/>
<ellipse cx="627" cy="213" rx="7.5" ry="3" fill="#fff"/>
<path d="M622,216.4 V224.5 A5,2.1 0 0 0 632,224.5 V216.4" fill="#e4e4e4"/>
<path d="M622,217.75 A5,2.1 0 0 1 632,217.75" stroke-width="0.6" stroke="#777"/>
<path d="M622,217.75 A5,2.1 0 0 0 632,217.75" stroke-width="0.9" stroke="#333"/>
<path d="M622,220.45 A5,2.1 0 0 1 632,220.45" stroke-width="0.6" stroke="#777"/>
<path d="M622,220.45 A5,2.1 0 0 0 632,220.45" stroke-width="0.9" stroke="#333"/>
<path d="M622,223.15 A5,2.1 0 0 1 632,223.15" stroke-width="0.6" stroke="#777"/>
<path d="M622,223.15 A5,2.1 0 0 0 632,223.15" stroke-width="0.9" stroke="#333"/>
<path d="M618.4,229 C618.4,226 622,224.5 626,224.5 C630,224.5 633,226 633,229 V249 C633,252 630,253.5 625.7,253.5 C621,253.5 618.4,252 618.4,249 Z" fill="#fff"/>
<path d="M618.4,231 L622,228 V235 L618.4,236" stroke-width="0.6"/>
<ellipse cx="624" cy="240" rx="1.5" ry="1" fill="#555" stroke-width="0.3"/>
<path d="M631.3,232 L640,230 L642.6,232 V241 L634,243.5 L631.3,241.5 Z" fill="#fff"/>
<path d="M634,234 V243.5 M631.3,232 L634,234 L642.6,232"/>
<path d="M628.3,253.5 V258.5 C628.3,260.8 632.7,260.8 632.7,258.5 V253.5" fill="#fff"/>
<path d="M628.3,255.5 H632.7 M628.3,257.3 H632.7" stroke-width="0.7"/>
<path d="M496.4,359.2 L617.7,301.4 L675.5,329.2 L676,386.7 L555.5,444.7 L496.6,418.6 V362" fill="#fff"/>
<path d="M496.4,359.2 L556,387 L675.5,329.2 M556,387 V444.7"/>
<path d="M514.5,427 V432.5 C516,436 521,437 524,436.8 C527.5,436.6 530,435 531,433.3"/>
<path d="M515.5,433 C518.5,435 525,435.3 530,433.5" stroke-width="0.45"/>
<path d="M507,422.3 C509,424.5 512,425.3 514.5,425.5" stroke-width="0.5"/>
<path d="M596.3,425.4 C600,427.5 606,427.5 609.6,426.8 C614,426 618.5,424 620.3,421.5 V413.4"/>
<line x1="609.6" y1="419" x2="609.6" y2="426.8" stroke-width="1"/>
<ellipse cx="623.4" cy="311.1" rx="5.5" ry="2.5" fill="#fff"/>
<ellipse cx="623.4" cy="311.5" rx="3" ry="1.2"/>
<ellipse cx="632.5" cy="320.2" rx="6.5" ry="3" fill="#fff"/>
<ellipse cx="632.5" cy="320.6" rx="3.6" ry="1.4"/>
<ellipse cx="634.5" cy="337.3" rx="12.5" ry="6" fill="#fff"/>
<ellipse cx="634.8" cy="338.2" rx="8.5" ry="3.8"/>
<ellipse cx="575.9" cy="349.7" rx="7" ry="3" fill="#fff"/>
<ellipse cx="575.9" cy="350.1" rx="3.8" ry="1.4"/>
<ellipse cx="502.1" cy="390.3" rx="5.74" ry="3.37" transform="rotate(-137.37 502.1 390.3)" fill="#fff"/>
<ellipse cx="502.1" cy="390.3" rx="3.16" ry="1.86" transform="rotate(-137.37 502.1 390.3)"/>
<ellipse cx="516.6" cy="382.2" rx="4.3" ry="2.53" transform="rotate(-137.37 516.6 382.2)" fill="#fff"/>
<ellipse cx="516.6" cy="382.2" rx="2.58" ry="1.52" transform="rotate(-137.37 516.6 382.2)" stroke-width="1.0" stroke="#555"/>
<ellipse cx="527" cy="379.8" rx="6.22" ry="3.65" transform="rotate(-137.37 527 379.8)" fill="#fff"/>
<ellipse cx="527" cy="379.8" rx="3.42" ry="2.01" transform="rotate(-137.37 527 379.8)"/>
<ellipse cx="508.5" cy="410.4" rx="6.22" ry="3.65" transform="rotate(-137.37 508.5 410.4)" fill="#fff"/>
<ellipse cx="508.5" cy="410.4" rx="3.73" ry="2.19" transform="rotate(-137.37 508.5 410.4)"/>
<ellipse cx="527.8" cy="407.2" rx="13.51" ry="7.94" transform="rotate(-137.37 527.8 407.2)" fill="#fff"/>
<ellipse cx="527.8" cy="407.2" rx="11.08" ry="6.51" transform="rotate(-137.37 527.8 407.2)"/>
<ellipse cx="543.5" cy="396" rx="7.17" ry="4.22" transform="rotate(-137.37 543.5 396)" fill="#fff"/>
<ellipse cx="543.5" cy="396" rx="4.3" ry="2.53" transform="rotate(-137.37 543.5 396)"/>
<path d="M524,402 L539,394.5 L542,399 L527,407 Z" fill="#fff"/>
<path d="M531,398.5 L534,403 M535,396.5 L538,401" stroke-width="0.9"/>
<path d="M517.5,402.5 L521,400.5 L527,401 L530,403.5 L529.5,408.5 L525,411 L519,410.8 L516.2,408 Z" fill="#fff"/>
<path d="M516.2,408 L519,410.8 L522.5,409 L523,403 L521,400.5 M522.5,409 L525,411 M523,403 L527,401 M523,403 L529.8,405.5" stroke-width="0.55"/>
<path d="M525,408 L531,413 M528,407 L533,410" stroke-width="0.5"/>
<ellipse cx="670.3" cy="375.5" rx="3.37" ry="1.95" transform="rotate(136.91 670.3 375.5)" fill="#fff"/>
<ellipse cx="670.3" cy="375.5" rx="1.69" ry="0.98" transform="rotate(136.91 670.3 375.5)"/>
<ellipse cx="671.7" cy="385" rx="2.41" ry="1.4" transform="rotate(136.91 671.7 385)" fill="#fff"/>
<ellipse cx="671.7" cy="385" rx="1.2" ry="0.7" transform="rotate(136.91 671.7 385)"/>
<ellipse cx="560" cy="388.6" rx="2.17" ry="1.26" transform="rotate(136.91 560 388.6)" fill="#fff"/>
<ellipse cx="560" cy="388.6" rx="1.08" ry="0.63" transform="rotate(136.91 560 388.6)"/>
<path d="M562,390 L566,392" stroke-width="0.5"/>
<ellipse cx="558.5" cy="441.5" rx="2.17" ry="1.26" transform="rotate(136.91 558.5 441.5)" fill="#fff"/>
<ellipse cx="558.5" cy="441.5" rx="1.08" ry="0.63" transform="rotate(136.91 558.5 441.5)"/>
<path d="M489.7,414 L497,411 L500.5,418 L493,421 Z" fill="#fff"/>
<path d="M493.5,412 L496.5,419.5 M496,411.5 L499,419" stroke-width="0.5"/>
<path d="M500,412 L503,410.5 L505.5,415.5 L502.5,417 Z" fill="#fff"/>
<ellipse cx="486.8" cy="419.5" rx="2.4" ry="3" transform="rotate(-30 486.8 419.5)" fill="#fff"/>
<ellipse cx="486.8" cy="419.5" rx="1.1" ry="1.5" transform="rotate(-30 486.8 419.5)"/>
<path d="M467,418 C470,416 476,416.5 480,418.5 C483,420 484.5,423 484,426 C483,429 479,431 475,431.3 C472,431.5 469.5,430 468.5,428 C466,425 464.5,421 467,418 Z" fill="#fff"/>
<path d="M466,420.5 C469,419 474,419.5 477,421.5 C480,423.5 481,427 480,430" stroke-width="0.5"/>
<path d="M467,422 C470,421 473,421.5 475,423" stroke-width="0.5"/>
<ellipse cx="604.3" cy="324.2" rx="15" ry="6.5" fill="#fff"/>
<ellipse cx="604.3" cy="324.5" rx="11.5" ry="4.5"/>
<path d="M594.5,309 V325 A10.5,4.41 0 0 0 615.5,325 V309" fill="#e4e4e4"/>
<path d="M594.5,310.6 A10.5,4.41 0 0 1 615.5,310.6" stroke-width="0.6" stroke="#777"/>
<path d="M594.5,310.6 A10.5,4.41 0 0 0 615.5,310.6" stroke-width="1.0" stroke="#333"/>
<path d="M594.5,313.8 A10.5,4.41 0 0 1 615.5,313.8" stroke-width="0.6" stroke="#777"/>
<path d="M594.5,313.8 A10.5,4.41 0 0 0 615.5,313.8" stroke-width="1.0" stroke="#333"/>
<path d="M594.5,317 A10.5,4.41 0 0 1 615.5,317" stroke-width="0.6" stroke="#777"/>
<path d="M594.5,317 A10.5,4.41 0 0 0 615.5,317" stroke-width="1.0" stroke="#333"/>
<path d="M594.5,320.2 A10.5,4.41 0 0 1 615.5,320.2" stroke-width="0.6" stroke="#777"/>
<path d="M594.5,320.2 A10.5,4.41 0 0 0 615.5,320.2" stroke-width="1.0" stroke="#333"/>
<path d="M594.5,323.4 A10.5,4.41 0 0 1 615.5,323.4" stroke-width="0.6" stroke="#777"/>
<path d="M594.5,323.4 A10.5,4.41 0 0 0 615.5,323.4" stroke-width="1.0" stroke="#333"/>
<path d="M594.5,298 V309 A10.5,4.41 0 0 0 615.5,309 V298" fill="#fff"/>
<ellipse cx="599" cy="304" rx="1.4" ry="1" fill="#666" stroke-width="0.3"/>
<ellipse cx="610" cy="304" rx="1.4" ry="1" fill="#666" stroke-width="0.3"/>
<path d="M591.5,282.5 V298.5 L606,300 L619.5,296.5 V282.5 Z" fill="#fff"/>
<ellipse cx="605" cy="282.5" rx="14.5" ry="5.8" fill="#fff"/>
<path d="M591.5,287 L606,288.5 L619.5,285 M606,288.5 V300"/>
<ellipse cx="551.4" cy="352" rx="12.5" ry="5.6" fill="#fff"/>
<ellipse cx="551.4" cy="352.4" rx="9.5" ry="3.8"/>
<path d="M541.2,338 V352 A10,4.2 0 0 0 561.2,352 V338" fill="#e4e4e4"/>
<path d="M541.2,339.75 A10,4.2 0 0 1 561.2,339.75" stroke-width="0.6" stroke="#777"/>
<path d="M541.2,339.75 A10,4.2 0 0 0 561.2,339.75" stroke-width="1.0" stroke="#333"/>
<path d="M541.2,343.25 A10,4.2 0 0 1 561.2,343.25" stroke-width="0.6" stroke="#777"/>
<path d="M541.2,343.25 A10,4.2 0 0 0 561.2,343.25" stroke-width="1.0" stroke="#333"/>
<path d="M541.2,346.75 A10,4.2 0 0 1 561.2,346.75" stroke-width="0.6" stroke="#777"/>
<path d="M541.2,346.75 A10,4.2 0 0 0 561.2,346.75" stroke-width="1.0" stroke="#333"/>
<path d="M541.2,350.25 A10,4.2 0 0 1 561.2,350.25" stroke-width="0.6" stroke="#777"/>
<path d="M541.2,350.25 A10,4.2 0 0 0 561.2,350.25" stroke-width="1.0" stroke="#333"/>
<path d="M541.7,327 V338 A9.5,3.99 0 0 0 560.7,338 V327" fill="#fff"/>
<ellipse cx="547" cy="333" rx="1.3" ry="1" fill="#666" stroke-width="0.3"/>
<path d="M541.5,312.4 V327.5 L552,329 L563.5,325.5 V312.4 Z" fill="#fff"/>
<ellipse cx="552" cy="312.4" rx="11.5" ry="4.6" fill="#fff"/>
<path d="M541.5,317 L552,318.5 L563.5,315 M552,318.5 V329"/>
<ellipse cx="534.5" cy="361" rx="8.6" ry="3.8" fill="#fff"/>
<ellipse cx="534.5" cy="361.2" rx="5.5" ry="2.2"/>
<path d="M529.7,339 V359 A4.8,2.02 0 0 0 539.3,359 V339" fill="#e4e4e4"/>
<path d="M529.7,341 A4.8,2.02 0 0 1 539.3,341" stroke-width="0.6" stroke="#777"/>
<path d="M529.7,341 A4.8,2.02 0 0 0 539.3,341" stroke-width="1.0" stroke="#333"/>
<path d="M529.7,345 A4.8,2.02 0 0 1 539.3,345" stroke-width="0.6" stroke="#777"/>
<path d="M529.7,345 A4.8,2.02 0 0 0 539.3,345" stroke-width="1.0" stroke="#333"/>
<path d="M529.7,349 A4.8,2.02 0 0 1 539.3,349" stroke-width="0.6" stroke="#777"/>
<path d="M529.7,349 A4.8,2.02 0 0 0 539.3,349" stroke-width="1.0" stroke="#333"/>
<path d="M529.7,353 A4.8,2.02 0 0 1 539.3,353" stroke-width="0.6" stroke="#777"/>
<path d="M529.7,353 A4.8,2.02 0 0 0 539.3,353" stroke-width="1.0" stroke="#333"/>
<path d="M529.7,357 A4.8,2.02 0 0 1 539.3,357" stroke-width="0.6" stroke="#777"/>
<path d="M529.7,357 A4.8,2.02 0 0 0 539.3,357" stroke-width="1.0" stroke="#333"/>
<path d="M527.2,315 V338.5 A7.3,3.07 0 0 0 541.8,338.5 V315" fill="#fff"/>
<path d="M527.2,328.5 A7.3,3.07 0 0 0 541.8,328.5" stroke-width="0.6"/>
<path d="M527.2,332 A7.3,3.07 0 0 0 541.8,332" stroke-width="0.6"/>
<path d="M531.5,306 V315 A3,1.26 0 0 0 537.5,315 V306" fill="#fff"/>
<ellipse cx="534.5" cy="306" rx="3" ry="1.2" fill="#fff"/>
<ellipse cx="534.5" cy="314.6" rx="7.3" ry="2.6" fill="#fff"/>
<path d="M531.5,306 V314.8 A3,1.26 0 0 0 537.5,314.8 V306" fill="#fff"/>
<ellipse cx="534.8" cy="305.8" rx="1.8" ry="0.8" fill="#444"/>
<ellipse cx="513.6" cy="360.6" rx="9" ry="3.4" fill="#fff"/>
<ellipse cx="513.6" cy="360.8" rx="5.5" ry="2"/>
<path d="M509.5,349 V359 A4.5,1.89 0 0 0 518.5,359 V349" fill="#e4e4e4"/>
<path d="M509.5,350.25 A4.5,1.89 0 0 1 518.5,350.25" stroke-width="0.6" stroke="#777"/>
<path d="M509.5,350.25 A4.5,1.89 0 0 0 518.5,350.25" stroke-width="1.0" stroke="#333"/>
<path d="M509.5,352.75 A4.5,1.89 0 0 1 518.5,352.75" stroke-width="0.6" stroke="#777"/>
<path d="M509.5,352.75 A4.5,1.89 0 0 0 518.5,352.75" stroke-width="1.0" stroke="#333"/>
<path d="M509.5,355.25 A4.5,1.89 0 0 1 518.5,355.25" stroke-width="0.6" stroke="#777"/>
<path d="M509.5,355.25 A4.5,1.89 0 0 0 518.5,355.25" stroke-width="1.0" stroke="#333"/>
<path d="M509.5,357.75 A4.5,1.89 0 0 1 518.5,357.75" stroke-width="0.6" stroke="#777"/>
<path d="M509.5,357.75 A4.5,1.89 0 0 0 518.5,357.75" stroke-width="1.0" stroke="#333"/>
<path d="M507.4,340.5 V349 A6.6,2.77 0 0 0 520.6,349 V340.5" fill="#fff"/>
<path d="M507.4,344 A6.6,2.77 0 0 0 520.6,344" stroke-width="0.6"/>
<path d="M504.6,321 V337.5 A9.4,3.95 0 0 0 523.4,337.5 V321" fill="#fff"/>
<ellipse cx="514" cy="321.2" rx="9.4" ry="6" fill="#fff"/>
<ellipse cx="514" cy="320.5" rx="6" ry="3.6"/>
<ellipse cx="514" cy="321" rx="3.6" ry="2" fill="#ccc"/>
<path d="M497.3,318 C497.3,315.5 500,315.5 502,316 L507.3,317 V333 L501,331 C498.5,330.5 497.3,329.5 497.3,327 Z" fill="#fff"/>
<path d="M500,317 V330"/>
<line x1="473.7" y1="92.2" x2="470.7" y2="102.1" stroke-width="0.7"/>
<circle cx="476.1" cy="87.7" r="4.4" fill="#fff" stroke-width="0.85"/>
<text x="476.3" y="89.6" font-size="5.3" font-weight="bold" letter-spacing="-0.35" text-anchor="middle" stroke="#222" stroke-width="0.1" style="fill:#222">12</text>
<line x1="578.6" y1="89.5" x2="584" y2="97.3" stroke-width="0.7"/>
<circle cx="576.2" cy="85.3" r="4.4" fill="#fff" stroke-width="0.85"/>
<text x="576.4" y="87.2" font-size="5.3" font-weight="bold" letter-spacing="-0.35" text-anchor="middle" stroke="#222" stroke-width="0.1" style="fill:#222">11</text>
<line x1="498.9" y1="186.3" x2="513.5" y2="178.5" stroke-width="0.7"/>
<circle cx="494.6" cy="188.3" r="4.4" fill="#fff" stroke-width="0.85"/>
<text x="494.7" y="190.65" font-size="6.6" text-anchor="middle" stroke="#222" stroke-width="0.3" style="fill:#222">6</text>
<line x1="645.2" y1="229.8" x2="632.5" y2="225.4" stroke-width="0.7"/>
<circle cx="649.5" cy="231" r="4.4" fill="#fff" stroke-width="0.85"/>
<text x="649.7" y="232.9" font-size="5.3" font-weight="bold" letter-spacing="-0.35" text-anchor="middle" stroke="#222" stroke-width="0.1" style="fill:#222">10</text>
<line x1="539.5" y1="283.9" x2="543" y2="271" stroke-width="0.7"/>
<circle cx="538.8" cy="288.3" r="4.4" fill="#fff" stroke-width="0.85"/>
<text x="538.9" y="290.65" font-size="6.6" text-anchor="middle" stroke="#222" stroke-width="0.3" style="fill:#222">1</text>
<line x1="567" y1="264.6" x2="569" y2="250" stroke-width="0.7"/>
<circle cx="566.3" cy="269" r="4.4" fill="#fff" stroke-width="0.85"/>
<text x="566.4" y="271.35" font-size="6.6" text-anchor="middle" stroke="#222" stroke-width="0.3" style="fill:#222">2</text>
<line x1="630.8" y1="278.8" x2="617.4" y2="282.5" stroke-width="0.7"/>
<circle cx="635.1" cy="277.4" r="4.4" fill="#fff" stroke-width="0.85"/>
<text x="635.2" y="279.75" font-size="6.6" text-anchor="middle" stroke="#222" stroke-width="0.3" style="fill:#222">4</text>
<line x1="573.2" y1="307.1" x2="560.5" y2="310.9" stroke-width="0.7"/>
<circle cx="577.4" cy="305.6" r="4.4" fill="#fff" stroke-width="0.85"/>
<text x="577.5" y="307.95" font-size="6.6" text-anchor="middle" stroke="#222" stroke-width="0.3" style="fill:#222">3</text>
<line x1="521" y1="306" x2="528.3" y2="315.8" stroke-width="0.7"/>
<circle cx="518.6" cy="302.1" r="4.4" fill="#fff" stroke-width="0.85"/>
<text x="518.7" y="304.45" font-size="6.6" text-anchor="middle" stroke="#222" stroke-width="0.3" style="fill:#222">9</text>
<line x1="490.7" y1="331.2" x2="505" y2="334.3" stroke-width="0.7"/>
<circle cx="486.4" cy="330" r="4.4" fill="#fff" stroke-width="0.85"/>
<text x="486.5" y="332.35" font-size="6.6" text-anchor="middle" stroke="#222" stroke-width="0.3" style="fill:#222">8</text>
<line x1="494.9" y1="340.5" x2="507.4" y2="342.3" stroke-width="0.7"/>
<circle cx="490.5" cy="339.6" r="4.4" fill="#fff" stroke-width="0.85"/>
<text x="490.6" y="341.95" font-size="6.6" text-anchor="middle" stroke="#222" stroke-width="0.3" style="fill:#222">7</text>
<line x1="489.5" y1="398.1" x2="492.8" y2="412.6" stroke-width="0.7"/>
<circle cx="488.9" cy="393.7" r="4.4" fill="#fff" stroke-width="0.85"/>
<text x="489" y="396.05" font-size="6.6" text-anchor="middle" stroke="#222" stroke-width="0.3" style="fill:#222">6</text>
<line x1="543.1" y1="415.2" x2="531.2" y2="408.6" stroke-width="0.7"/>
<circle cx="547.2" cy="417.1" r="4.4" fill="#fff" stroke-width="0.85"/>
<text x="547.3" y="419.45" font-size="6.6" text-anchor="middle" stroke="#222" stroke-width="0.3" style="fill:#222">5</text>
</g><!--/diag-->

<text class="b" x="414.6" y="448.1" font-size="6">TX1000467</text>
<text class="it" x="565.7" y="455.8" font-size="4.8" text-anchor="middle">Hydraulic System Manifold</text>
<text class="b" x="572" y="463.2" font-size="3.6">Continued on next page</text>
<text x="719.6" y="462.9" font-size="3.6" text-anchor="end">DW76195,00003EE &#160;&#160;–19–22NOV06–1/2</text>
<text x="0" y="0" font-size="3.6" transform="translate(721.5,449.6) rotate(-90)">TX1000467 &#160;&#160;–UN–22NOV06</text>

<!-- footer right -->
<text x="407.6" y="471.3" font-size="6">TM2307 (23MAY07)</text>
<text class="b" x="565.4" y="471" font-size="8.3" text-anchor="middle">31-3160-32</text>
<text x="724" y="471.3" font-size="6" text-anchor="end">844J Loader</text>
<text x="724" y="476" font-size="2.6" text-anchor="end">060407</text>
<text x="724" y="482" font-size="5" text-anchor="end">PN=604</text>

<!-- watermark -->
<text class="wm" x="250.3" y="257" font-size="25" style="mix-blend-mode:multiply">machinecatalogic.com</text>
</svg>
</body></html>
